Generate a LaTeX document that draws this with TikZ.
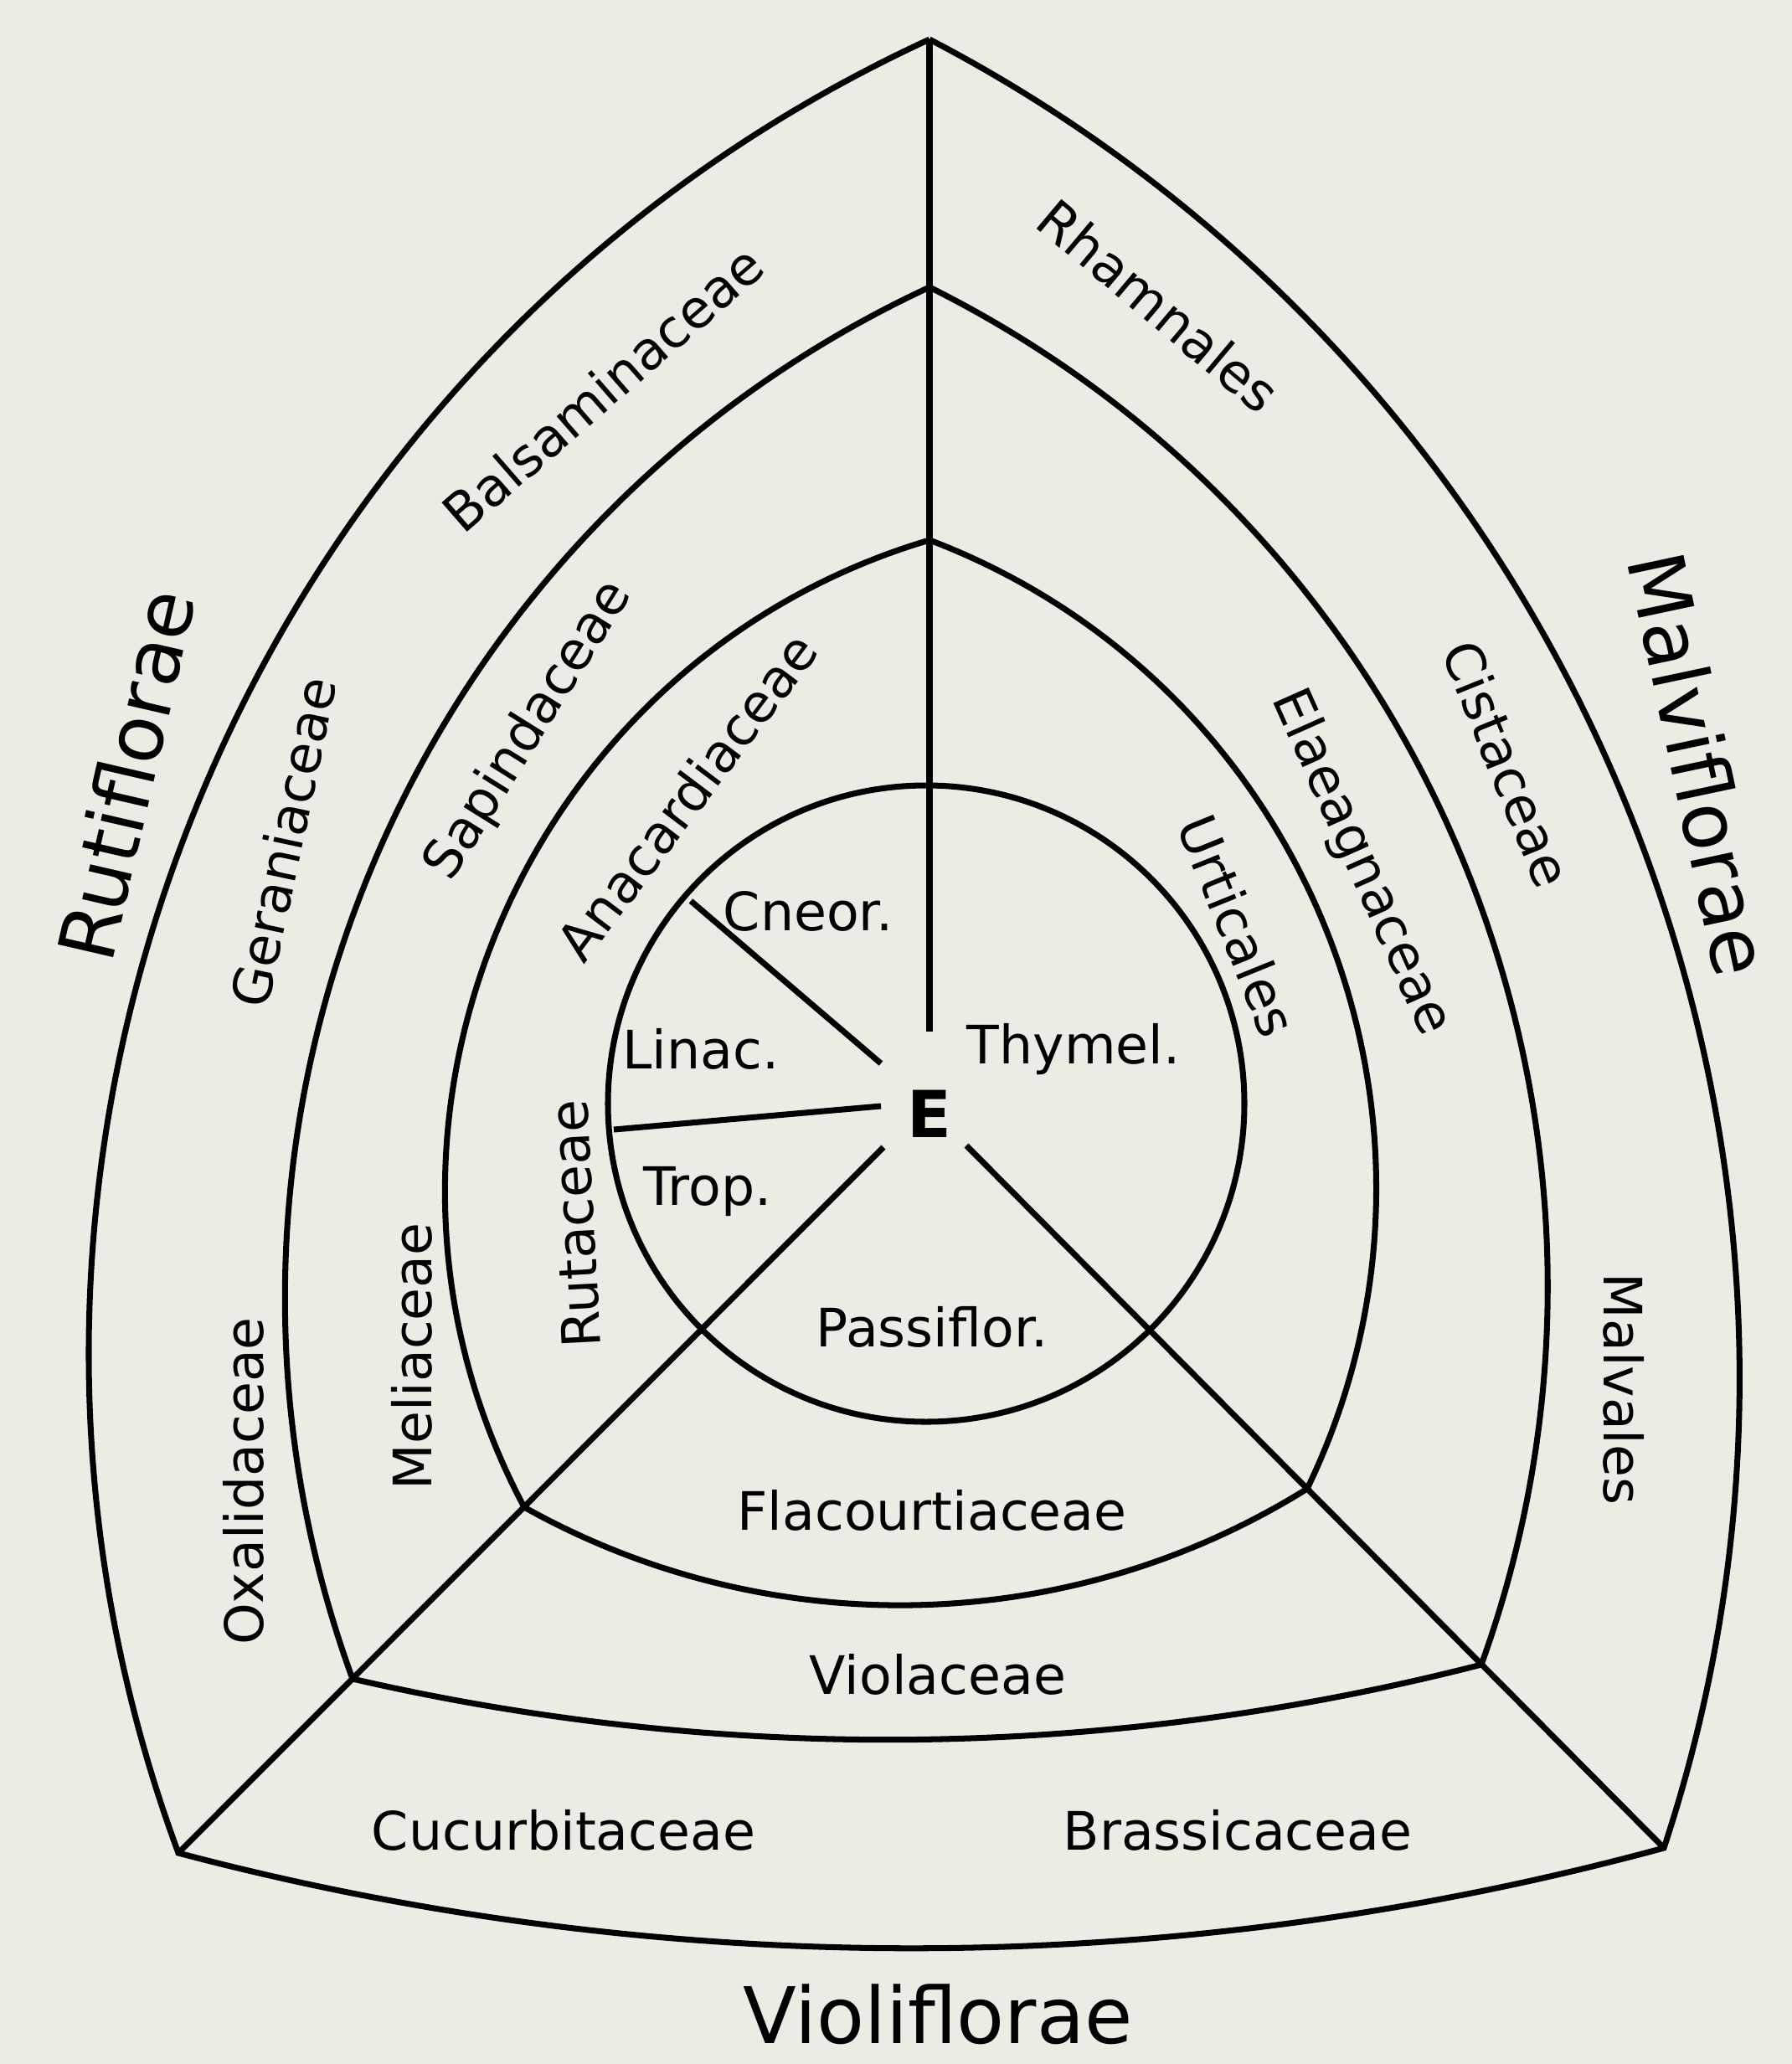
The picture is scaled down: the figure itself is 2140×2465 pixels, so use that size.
\documentclass[tikz,border=0pt]{standalone}
\usepackage{fontspec}
\setmainfont{DejaVu Sans}
\usetikzlibrary{calc}
\definecolor{paper}{RGB}{236,235,228}
\begin{document}
\begin{tikzpicture}[x=0.01cm,y=-0.01cm,
  edge/.style={line width=2pt,black,line join=miter},
  lbl/.style={font=\fontsize{18}{18}\selectfont,inner sep=0pt},
  big/.style={font=\fontsize{26.5}{26.5}\selectfont,inner sep=0pt}]
\fill[paper] (0,0) rectangle (2140,2465);
\useasboundingbox (0,0) rectangle (2140,2465);
% vertices
\coordinate (T1) at (1110,47);
\coordinate (L1) at (213,2213);
\coordinate (R1) at (1987,2207);
\coordinate (T2) at (1110,343);
\coordinate (L2) at (421,2005);
\coordinate (R2) at (1769,1988);
\coordinate (T3) at (1110,645);
\coordinate (L3) at (626,1800);
\coordinate (R3) at (1561,1778);
\coordinate (C) at (1106,1318);
\coordinate (Vend) at (1110,1232);
\coordinate (SL) at (1055,1370);
\coordinate (SR) at (1154,1368);
\coordinate (D1a) at (825,1076);
\coordinate (D1b) at (1052,1270);
\coordinate (D2a) at (733,1349);
\coordinate (D2b) at (1052,1321);
% outlines
\draw[edge] (T1) to[bend right=42.8,looseness=0.982] (L1)
  to[bend right=15,looseness=0.866] (R1)
  to[bend right=40.4,looseness=0.966] (T1);
\draw[edge] (T2) to[bend right=42.6,looseness=0.981] (L2)
  to[bend right=13.7,looseness=0.864] (R2)
  to[bend right=41.7,looseness=0.975] (T2);
\draw[edge] (T3) to[bend right=50.8,looseness=1.043] (L3)
  to[bend right=30.6,looseness=0.915] (R3)
  to[bend right=47.5,looseness=1.016] (T3);
\draw[edge] (C) circle[radius=380];
\draw[edge] (T1) -- (Vend);
\draw[edge] (SL) -- (L1);
\draw[edge] (SR) -- (R1);
\draw[edge] (D1a) -- (D1b);
\draw[edge] (D2a) -- (D2b);
% labels
\node[big,rotate=77] (rut) at (150,925) {Rutiflorae};
\node[big,rotate=-78] (mal) at (2030,912) {Malviflorae};
\node[big] (vio) at (1120,2406) {Violiflorae};
\node[lbl,rotate=41] (bal) at (720,464) {Balsaminaceae};
\node[lbl,rotate=-40] (rha) at (1384,365) {Rhamnales};
\node[lbl,rotate=78] (ger) at (338,1006) {Geraniaceae};
\node[lbl,rotate=58] (sap) at (632,873) {Sapindaceae};
\node[lbl,rotate=53] (ana) at (820,951) {Anacardiaceae};
\node[lbl,rotate=-68] (cis) at (1800,912) {Cistaceae};
\node[lbl,rotate=-66] (ela) at (1625,1030) {Elaeagnaceae};
\node[lbl,rotate=-68] (urt) at (1478,1105) {Urticales};
\node[lbl,rotate=90] (oxa) at (291,1769) {Oxalidaceae};
\node[lbl,rotate=90] (mel) at (492,1620) {Meliaceae};
\node[lbl,rotate=93] (rta) at (687,1462) {Rutaceae};
\node[lbl,rotate=-90] (mav) at (1939,1659) {Malvales};
\node[lbl] (cne) at (965,1088) {Cneor.};
\node[lbl] (lin) at (837,1253) {Linac.};
\node[lbl] (thy) at (1282,1253) {Thymel.};
\node[font=\fontsize{22}{22}\selectfont\bfseries,inner sep=0pt] (E) at (1110,1330) {E};
\node[lbl] (tro) at (845,1423) {Trop.};
\node[lbl] (pas) at (1113,1585) {Passiflor.};
\node[lbl] (fla) at (1113,1804) {Flacourtiaceae};
\node[lbl] (vla) at (1120,2000) {Violaceae};
\node[lbl] (cuc) at (673,2186) {Cucurbitaceae};
\node[lbl] (bra) at (1478,2186) {Brassicaceae};
\end{tikzpicture}
\end{document}
